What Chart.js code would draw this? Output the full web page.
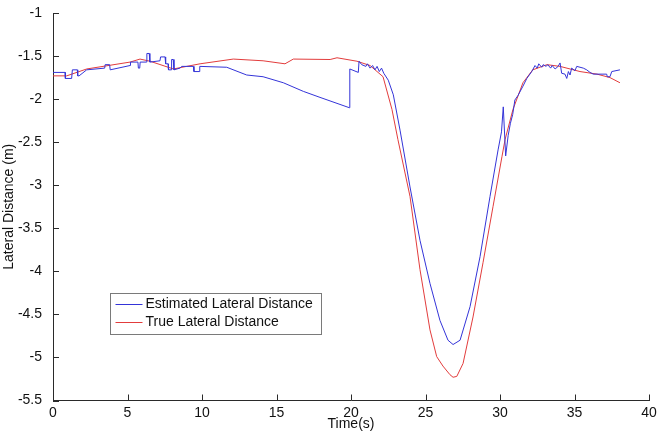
<!DOCTYPE html>
<html>
<head>
<meta charset="utf-8">
<script src="https://cdn.jsdelivr.net/npm/chart.js@4.4.1/dist/chart.umd.min.js"></script>
<style>
  body { margin: 0; background: #fff; }
</style>
</head>
<body>
<canvas id="myChart" width="659" height="436"></canvas>
<script>
// estimated lateral distance (blue)
var estTime = [0, 0.81, 0.83, 1.25, 1.3, 1.63, 1.66, 1.75, 2.26, 3.47, 3.5, 3.8, 3.84, 5.17, 5.2, 5.7, 5.73, 5.82, 5.85, 6.27,
    6.3, 6.46, 6.5, 7.18, 7.22, 7.52, 7.56, 7.72, 7.75, 7.93, 7.96, 8.07, 8.12, 8.52, 8.64, 9.42, 9.46, 9.8, 9.85, 11.66,
    12.55, 13.0, 14.1, 15.46, 16.8, 17.92, 19.89, 19.92, 20.49, 20.54, 20.72, 21.0, 21.1, 21.28, 21.45, 21.61, 21.75, 21.9, 22.05, 22.2,
    22.5, 22.84, 23.29, 23.96, 24.63, 25.3, 25.97, 26.51, 26.85, 27.32, 27.99, 28.66, 29.33, 29.87, 30.1, 30.22, 30.38, 30.55, 30.7, 30.85,
    31.0, 31.2, 31.54, 31.8, 32.13, 32.35, 32.5, 32.6, 32.8, 32.9, 33.1, 33.2, 33.4, 33.5, 33.7, 33.9, 34.03, 34.14, 34.36, 34.48,
    34.59, 34.7, 34.81, 35.03, 35.15, 35.59, 35.82, 36.04, 36.26, 37.16, 37.2, 37.38, 37.5, 38.05]
var estDist = [-1.69, -1.69, -1.76, -1.76, -1.66, -1.66, -1.73, -1.73, -1.66, -1.64, -1.60, -1.60, -1.66, -1.61, -1.57, -1.57, -1.64, -1.64, -1.57, -1.57,
    -1.47, -1.47, -1.57, -1.555, -1.51, -1.51, -1.59, -1.59, -1.66, -1.66, -1.54, -1.54, -1.66, -1.64, -1.62, -1.62, -1.68, -1.68, -1.62, -1.63,
    -1.69, -1.72, -1.74, -1.81, -1.91, -1.98, -2.10, -1.65, -1.69, -1.56, -1.60, -1.62, -1.59, -1.64, -1.61, -1.66, -1.62, -1.68, -1.64, -1.70,
    -1.78, -1.95, -2.36, -3.02, -3.64, -4.14, -4.57, -4.80, -4.85, -4.80, -4.41, -3.83, -3.13, -2.59, -2.38, -2.09, -2.66, -2.42, -2.28, -2.18,
    -2.01, -1.96, -1.85, -1.76, -1.68, -1.61, -1.64, -1.59, -1.63, -1.60, -1.62, -1.60, -1.64, -1.61, -1.65, -1.62, -1.58, -1.70, -1.71, -1.76,
    -1.68, -1.72, -1.64, -1.67, -1.62, -1.64, -1.66, -1.69, -1.71, -1.71, -1.74, -1.74, -1.68, -1.66]

// true lateral distance (red)
var trueTime = [0, 0.92, 2.26, 5.17, 5.84, 6.51, 8.08, 8.97, 9.87, 12.1, 14.1, 15.57, 16.13, 18.6, 19.06, 20.4, 21.28, 22.15, 22.75, 23.15,
    23.96, 24.63, 25.3, 25.75, 26.17, 26.64, 26.85, 27.1, 27.52, 28.19, 28.86, 29.53, 30.13, 30.34, 30.87, 31.54, 32.2, 33.15, 34.03, 35.37,
    36.51, 37.38, 38.05]
var trueDist = [-1.73, -1.73, -1.65, -1.57, -1.535, -1.56, -1.65, -1.62, -1.59, -1.535, -1.555, -1.59, -1.535, -1.54, -1.52, -1.56, -1.61, -1.74, -2.12, -2.47,
    -3.13, -3.98, -4.68, -4.99, -5.10, -5.20, -5.23, -5.22, -5.07, -4.53, -3.90, -3.25, -2.67, -2.47, -2.12, -1.81, -1.66, -1.60, -1.62, -1.68,
    -1.71, -1.75, -1.81]

var seriesNames = ['Estimated Lateral Distance', 'True Lateral Distance']
var seriesColors = ['#3434d8', '#e23c3c']

function toPoints(xs, ys) {
    var pts = []
    for (var i = 0; i < xs.length; i++) pts.push({x: xs[i], y: ys[i]})
    return pts
}

var fontFam = '"Liberation Sans", Arial, sans-serif'
var axisColor = '#2a2a2a'

// matlab style ticks pointing into the plot
var innerTicks = {
    id: 'innerTicks',
    afterDraw: function(chart) {
        var c = chart.ctx, a = chart.chartArea
        var xs = chart.scales.x, ys = chart.scales.y
        c.save()
        c.strokeStyle = axisColor
        c.lineWidth = 1
        c.beginPath()
        xs.ticks.forEach(function(t) {
            var px = Math.round(xs.getPixelForValue(t.value)) + 0.5
            c.moveTo(px, a.bottom)
            c.lineTo(px, a.bottom - 6)
        })
        ys.ticks.forEach(function(t) {
            var py = Math.round(ys.getPixelForValue(t.value)) + 0.5
            c.moveTo(a.left, py)
            c.lineTo(a.left + 6, py)
        })
        c.stroke()
        c.restore()
    }
}

// legend box inside the plot
var boxLegend = {
    id: 'boxLegend',
    afterDraw: function(chart) {
        var c = chart.ctx
        var x0 = 110.5, y0 = 293.5, w = 211, h = 41
        c.save()
        c.fillStyle = '#fff'
        c.fillRect(x0, y0, w, h)
        c.strokeStyle = '#7a7a7a'
        c.lineWidth = 1
        c.strokeRect(x0, y0, w, h)
        c.font = '14px ' + fontFam
        c.textBaseline = 'middle'
        chart.data.datasets.forEach(function(ds, i) {
            var cy = 304.5 + i * 18
            c.strokeStyle = ds.borderColor
            c.beginPath()
            c.moveTo(x0 + 5, cy)
            c.lineTo(x0 + 32, cy)
            c.stroke()
            c.fillStyle = '#111'
            c.fillText(ds.label, x0 + 35, cy)
        })
        c.restore()
    }
}

const ctx = document.getElementById('myChart')
new Chart(ctx, {
    type: 'scatter',
    data: {
        datasets: [{
            label: seriesNames[0],
            data: toPoints(estTime, estDist),
            showLine: true,
            borderColor: seriesColors[0],
            borderWidth: 1,
            pointRadius: 0,
            tension: 0
        }, {
            label: seriesNames[1],
            data: toPoints(trueTime, trueDist),
            showLine: true,
            borderColor: seriesColors[1],
            borderWidth: 1,
            pointRadius: 0,
            tension: 0
        }]
    },
    options: {
        responsive: false,
        animation: false,
        layout: { padding: { top: 13, right: 10, left: 0, bottom: 0 } },
        plugins: { legend: { display: false }, tooltip: { enabled: false } },
        scales: {
            x: {
                type: 'linear',
                min: 0,
                max: 40,
                afterFit: function(s) { s.height = 35.5 },
                grid: { display: false },
                border: { display: true, color: axisColor, width: 1 },
                ticks: { stepSize: 5, padding: -4, color: '#111', font: { family: fontFam, size: 14 } },
                title: { display: true, text: 'Time(s)', color: '#111', padding: { top: 0, bottom: 3 }, font: { family: fontFam, size: 14 } }
            },
            y: {
                type: 'linear',
                min: -5.5,
                max: -1,
                afterFit: function(s) { s.width = 53 },
                grid: { display: false },
                border: { display: true, color: axisColor, width: 1 },
                ticks: {
                    stepSize: 0.5, padding: 3, color: '#111', font: { family: fontFam, size: 14 },
                    callback: function(v) { return String(Number(v.toFixed(1))) }
                },
                title: { display: true, text: 'Lateral Distance (m)', color: '#111', padding: { top: 1, bottom: 0 }, font: { family: fontFam, size: 14 } }
            }
        }
    },
    plugins: [innerTicks, boxLegend]
})
</script>
</body>
</html>
